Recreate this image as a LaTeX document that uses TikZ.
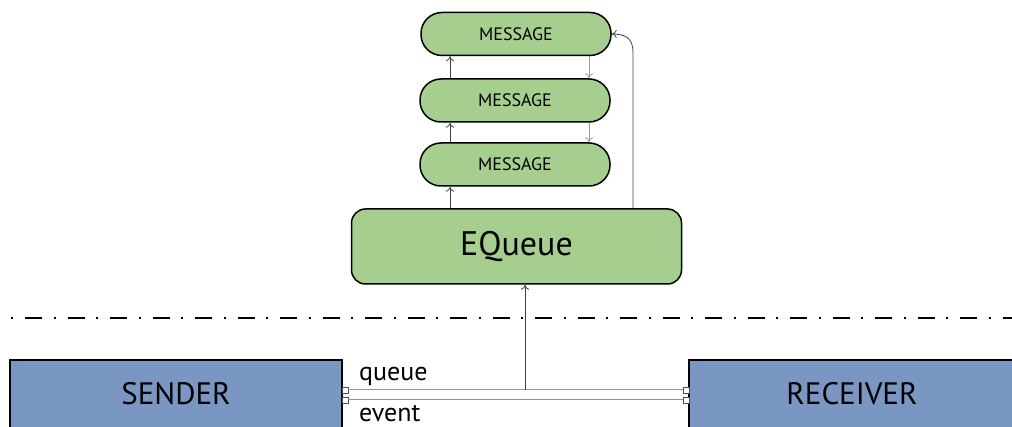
\documentclass[tikz,border=0pt]{standalone}
\usepackage{fontspec}
\setmainfont{PT Sans}
\usetikzlibrary{arrows.meta,calc}
\definecolor{msggreen}{RGB}{165,206,143}
\definecolor{compblue}{RGB}{122,151,196}
\definecolor{wiregray}{RGB}{150,150,150}
\tikzset{
  msgbox/.style={draw=black,line width=1.5pt,fill=msggreen,rounded corners=21pt,
    minimum width=190pt,minimum height=43pt,inner sep=0pt,font=\fontsize{18}{20}\selectfont},
  queuebox/.style={draw=black,line width=1.5pt,fill=msggreen,rounded corners=14pt,
    minimum width=330pt,minimum height=75pt,inner sep=0pt,font=\fontsize{34}{36}\selectfont},
  compbox/.style={draw=black,line width=1.5pt,fill=compblue,
    minimum height=68pt,inner sep=0pt,font=\fontsize{31}{33}\selectfont},
  port/.style={draw=black!70,fill=white,line width=0.6pt,minimum size=6pt,inner sep=0pt},
  wire/.style={draw=wiregray,line width=1pt},
  upflow/.style={draw=black!75,line width=0.8pt,-{To[length=5pt,width=8pt]}},
  downflow/.style={draw=black!40,line width=0.8pt,-{To[length=5pt,width=8pt]}},
  lbl/.style={font=\fontsize{26}{28}\selectfont,inner sep=0pt},
}
\begin{document}
\begin{tikzpicture}[x=1pt,y=-1pt]
\useasboundingbox (0,0) rectangle (1012,427);

% message stack and queue
\node[msgbox] (m1) at (516,34) {MESSAGE};
\node[msgbox] (m2) at (515,100.5) {MESSAGE};
\node[msgbox] (m3) at (515,164.5) {MESSAGE};
\node[queuebox] (eq) at (516.5,246.5) {EQueue};

% components
\node[compbox,minimum width=332pt] (snd) at (176,394) {SENDER};
\node[compbox,minimum width=326pt] (rcv) at (852,394) {RECEIVER};

% ports
\node[port] (sq) at (345,390) {};
\node[port] (se) at (345,400) {};
\node[port] (rq) at (686,390) {};
\node[port] (re) at (686,400) {};

% separator
\coordinate (sepL) at (11,318);
\coordinate (sepR) at (1012,318);
\draw[line width=1.4pt,dash pattern=on 2pt off 12pt on 17pt off 11.5pt] (sepL) -- (sepR);

% wires between components
\draw[wire] (sq.east) -- (rq.west);
\draw[wire] (se.east) -- (re.west);
\coordinate (tap) at (525,390);
\draw[upflow] (tap) -- (tap |- eq.south);

\node[lbl,anchor=base west] (ql) at (359,381) {queue};
\node[lbl,anchor=base west] (el) at (359,421) {event};

% message links
\coordinate (lx) at (450,0);
\coordinate (rx) at (589,0);
\coordinate (bx) at (633,0);
\draw[upflow] (lx |- eq.north) -- (lx |- m3.south);
\draw[upflow] (lx |- m3.north) -- (lx |- m2.south);
\draw[upflow] (lx |- m2.north) -- (lx |- m1.south);
\draw[downflow] (rx |- m1.south) -- (rx |- m2.north);
\draw[downflow] (rx |- m2.south) -- (rx |- m3.north);
\draw[upflow] (bx |- eq.north) -- (633,52) .. controls (633,38) and (625,34) .. (m1.east);
\end{tikzpicture}
\end{document}
